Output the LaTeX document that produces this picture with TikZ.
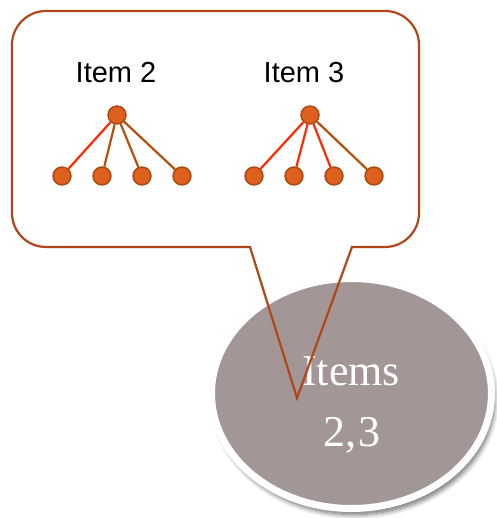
\documentclass[tikz,border=0pt]{standalone}
\usepackage{fontspec}
\setmainfont{Liberation Serif}
\newfontfamily\labelfont{Liberation Sans}
\usetikzlibrary{shapes.geometric,shadows.blur}
\definecolor{calloutline}{HTML}{B0471A}
\definecolor{dotfill}{HTML}{DE5F1E}
\definecolor{dotline}{HTML}{A9470F}
\definecolor{redlink}{HTML}{FF2A00}
\definecolor{brownlink}{HTML}{B5500C}
\definecolor{bubble}{HTML}{A29696}
\tikzset{
  dot/.style={circle, fill=dotfill, draw=dotline, line width=1.4pt, minimum size=18pt, inner sep=0pt},
  hot/.style={draw=redlink, line width=2.2pt},
  cold/.style={draw=brownlink, line width=2.2pt},
  itemlabel/.style={font=\labelfont\fontsize{29}{34}\selectfont, anchor=base, inner sep=0pt},
  bubbletext/.style={font=\fontsize{44}{52}\selectfont, text=white, anchor=base, inner sep=0pt},
}
\begin{document}
\begin{tikzpicture}[x=1pt, y=1pt]
\useasboundingbox (0,0) rectangle (496,518);

% grey ellipse with white rim and soft shadow
\node (blob) [ellipse, minimum width=280pt, minimum height=230pt, inner sep=0pt,
  fill=bubble, draw=white, line width=7pt,
  blur shadow={shadow xshift=3pt, shadow yshift=-6pt, shadow opacity=60, shadow blur radius=5pt, shadow blur steps=10}]
  at (351.5,124.5) {};
\node (w1) [bubbletext] at (351,132) {Items};
\node (w2) [bubbletext] at (352,71) {2,\kern2pt3};

% speech callout
\draw[calloutline, line width=2.2pt, line join=miter]
  (250,271) -- (46,271) arc[start angle=270, end angle=180, radius=34]
  -- (12,473) arc[start angle=180, end angle=90, radius=34]
  -- (385,507) arc[start angle=90, end angle=0, radius=34]
  -- (419,305) arc[start angle=0, end angle=-90, radius=34]
  -- (352,271) -- (297,120) -- cycle;

% first tree
\node (t2) [itemlabel] at (116,435) {Item 2};
\node (r1) [dot] at (117,403) {};
\node (a1) [dot] at (62,342) {};
\node (a2) [dot] at (102,342) {};
\node (a3) [dot] at (142,342) {};
\node (a4) [dot] at (182,342) {};
\draw[hot]  (r1) -- (a1);
\draw[cold] (r1) -- (a2);
\draw[cold] (r1) -- (a3);
\draw[cold] (r1) -- (a4);

% second tree
\node (t3) [itemlabel] at (304,435) {Item 3};
\node (r2) [dot] at (310,403) {};
\node (b1) [dot] at (254,342) {};
\node (b2) [dot] at (294,342) {};
\node (b3) [dot] at (334,342) {};
\node (b4) [dot] at (374,342) {};
\draw[hot]  (r2) -- (b1);
\draw[hot]  (r2) -- (b2);
\draw[hot]  (r2) -- (b3);
\draw[cold] (r2) -- (b4);
\end{tikzpicture}
\end{document}
